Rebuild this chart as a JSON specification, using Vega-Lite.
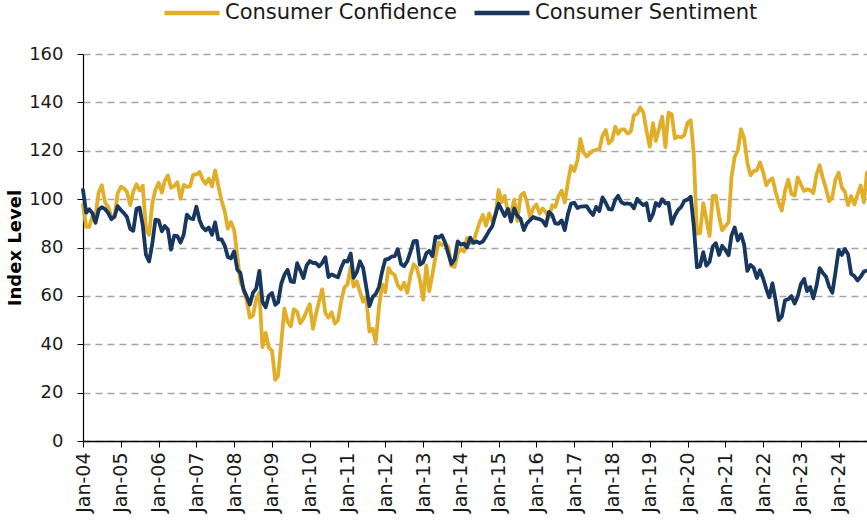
{
"$schema": "https://vega.github.io/schema/vega-lite/v6.json",
"width": 784, "height": 387,
"autosize": "none",
"padding": {"left": 83, "top": 54, "right": 0, "bottom": 81},
"background": "white",
"config": {"view": {"stroke": null}, "font": "DejaVu Sans"},
"data": {"values": [
{"d":"2004-01","cc":97.7,"cs":103.8},{"d":"2004-02","cc":88.5,"cs":94.4},{"d":"2004-03","cc":88.5,"cs":95.8},{"d":"2004-04","cc":93.0,"cs":94.2},{"d":"2004-05","cc":93.1,"cs":90.2},{"d":"2004-06","cc":102.8,"cs":95.6},{"d":"2004-07","cc":105.7,"cs":96.7},{"d":"2004-08","cc":98.7,"cs":95.9},{"d":"2004-09","cc":96.7,"cs":94.2},{"d":"2004-10","cc":92.9,"cs":91.7},{"d":"2004-11","cc":92.6,"cs":92.8},{"d":"2004-12","cc":102.3,"cs":97.1},
{"d":"2005-01","cc":105.1,"cs":95.5},{"d":"2005-02","cc":104.4,"cs":94.1},{"d":"2005-03","cc":103.0,"cs":92.6},{"d":"2005-04","cc":97.5,"cs":87.7},{"d":"2005-05","cc":103.1,"cs":86.9},{"d":"2005-06","cc":106.2,"cs":96.0},{"d":"2005-07","cc":103.6,"cs":96.5},{"d":"2005-08","cc":105.5,"cs":89.1},{"d":"2005-09","cc":87.5,"cs":76.9},{"d":"2005-10","cc":85.2,"cs":74.2},{"d":"2005-11","cc":98.3,"cs":81.6},{"d":"2005-12","cc":103.8,"cs":91.5},
{"d":"2006-01","cc":106.8,"cs":91.2},{"d":"2006-02","cc":102.7,"cs":86.7},{"d":"2006-03","cc":107.5,"cs":88.9},{"d":"2006-04","cc":109.8,"cs":87.4},{"d":"2006-05","cc":104.7,"cs":79.1},{"d":"2006-06","cc":105.4,"cs":84.9},{"d":"2006-07","cc":107.0,"cs":84.7},{"d":"2006-08","cc":100.2,"cs":82.0},{"d":"2006-09","cc":105.9,"cs":85.4},{"d":"2006-10","cc":105.1,"cs":93.6},{"d":"2006-11","cc":105.3,"cs":92.1},{"d":"2006-12","cc":110.0,"cs":91.7},
{"d":"2007-01","cc":110.2,"cs":96.9},{"d":"2007-02","cc":111.2,"cs":91.3},{"d":"2007-03","cc":108.2,"cs":88.4},{"d":"2007-04","cc":106.3,"cs":87.1},{"d":"2007-05","cc":108.5,"cs":88.3},{"d":"2007-06","cc":105.3,"cs":85.3},{"d":"2007-07","cc":111.9,"cs":90.4},{"d":"2007-08","cc":105.6,"cs":83.4},{"d":"2007-09","cc":99.5,"cs":83.4},{"d":"2007-10","cc":95.2,"cs":80.9},{"d":"2007-11","cc":87.8,"cs":76.1},{"d":"2007-12","cc":90.6,"cs":75.5},
{"d":"2008-01","cc":87.3,"cs":78.4},{"d":"2008-02","cc":76.4,"cs":70.8},{"d":"2008-03","cc":65.9,"cs":69.5},{"d":"2008-04","cc":62.8,"cs":62.6},{"d":"2008-05","cc":58.1,"cs":59.8},{"d":"2008-06","cc":51.0,"cs":56.4},{"d":"2008-07","cc":51.9,"cs":61.2},{"d":"2008-08","cc":58.5,"cs":63.0},{"d":"2008-09","cc":61.4,"cs":70.3},{"d":"2008-10","cc":38.8,"cs":57.6},{"d":"2008-11","cc":44.7,"cs":55.3},{"d":"2008-12","cc":38.6,"cs":60.1},
{"d":"2009-01","cc":37.4,"cs":61.2},{"d":"2009-02","cc":25.3,"cs":56.3},{"d":"2009-03","cc":26.9,"cs":57.3},{"d":"2009-04","cc":40.8,"cs":65.1},{"d":"2009-05","cc":54.8,"cs":68.7},{"d":"2009-06","cc":49.3,"cs":70.8},{"d":"2009-07","cc":47.4,"cs":66.0},{"d":"2009-08","cc":54.5,"cs":65.7},{"d":"2009-09","cc":53.4,"cs":73.5},{"d":"2009-10","cc":48.7,"cs":70.6},{"d":"2009-11","cc":50.6,"cs":67.4},{"d":"2009-12","cc":53.6,"cs":72.5},
{"d":"2010-01","cc":56.5,"cs":74.4},{"d":"2010-02","cc":46.4,"cs":73.6},{"d":"2010-03","cc":52.3,"cs":73.6},{"d":"2010-04","cc":57.7,"cs":72.2},{"d":"2010-05","cc":62.7,"cs":73.6},{"d":"2010-06","cc":52.9,"cs":76.0},{"d":"2010-07","cc":51.0,"cs":67.8},{"d":"2010-08","cc":53.2,"cs":68.9},{"d":"2010-09","cc":48.6,"cs":68.2},{"d":"2010-10","cc":49.9,"cs":67.7},{"d":"2010-11","cc":57.8,"cs":71.6},{"d":"2010-12","cc":63.4,"cs":74.5},
{"d":"2011-01","cc":64.8,"cs":74.2},{"d":"2011-02","cc":72.0,"cs":77.5},{"d":"2011-03","cc":63.8,"cs":67.5},{"d":"2011-04","cc":66.0,"cs":69.8},{"d":"2011-05","cc":61.7,"cs":74.3},{"d":"2011-06","cc":57.6,"cs":71.5},{"d":"2011-07","cc":59.2,"cs":63.7},{"d":"2011-08","cc":45.2,"cs":55.8},{"d":"2011-09","cc":46.4,"cs":59.5},{"d":"2011-10","cc":40.9,"cs":60.8},{"d":"2011-11","cc":55.2,"cs":63.7},{"d":"2011-12","cc":64.8,"cs":69.9},
{"d":"2012-01","cc":61.5,"cs":75.0},{"d":"2012-02","cc":71.6,"cs":75.3},{"d":"2012-03","cc":69.5,"cs":76.2},{"d":"2012-04","cc":68.7,"cs":76.4},{"d":"2012-05","cc":64.4,"cs":79.3},{"d":"2012-06","cc":62.7,"cs":73.2},{"d":"2012-07","cc":65.4,"cs":72.3},{"d":"2012-08","cc":61.3,"cs":74.3},{"d":"2012-09","cc":68.4,"cs":78.3},{"d":"2012-10","cc":73.1,"cs":82.6},{"d":"2012-11","cc":71.5,"cs":82.7},{"d":"2012-12","cc":66.7,"cs":72.9},
{"d":"2013-01","cc":58.4,"cs":73.8},{"d":"2013-02","cc":72.6,"cs":77.6},{"d":"2013-03","cc":61.9,"cs":78.6},{"d":"2013-04","cc":69.0,"cs":76.4},{"d":"2013-05","cc":76.2,"cs":84.5},{"d":"2013-06","cc":82.1,"cs":84.1},{"d":"2013-07","cc":81.0,"cs":85.1},{"d":"2013-08","cc":81.8,"cs":82.1},{"d":"2013-09","cc":80.2,"cs":77.5},{"d":"2013-10","cc":72.4,"cs":73.2},{"d":"2013-11","cc":72.0,"cs":75.1},{"d":"2013-12","cc":77.5,"cs":82.5},
{"d":"2014-01","cc":79.4,"cs":81.2},{"d":"2014-02","cc":78.3,"cs":81.6},{"d":"2014-03","cc":83.9,"cs":80.0},{"d":"2014-04","cc":81.7,"cs":84.1},{"d":"2014-05","cc":82.2,"cs":81.9},{"d":"2014-06","cc":86.4,"cs":82.5},{"d":"2014-07","cc":90.3,"cs":81.8},{"d":"2014-08","cc":93.4,"cs":82.5},{"d":"2014-09","cc":89.0,"cs":84.6},{"d":"2014-10","cc":94.1,"cs":86.9},{"d":"2014-11","cc":91.0,"cs":88.8},{"d":"2014-12","cc":93.1,"cs":93.6},
{"d":"2015-01","cc":103.8,"cs":98.1},{"d":"2015-02","cc":98.8,"cs":95.4},{"d":"2015-03","cc":101.4,"cs":93.0},{"d":"2015-04","cc":94.3,"cs":95.9},{"d":"2015-05","cc":94.6,"cs":90.7},{"d":"2015-06","cc":99.8,"cs":96.1},{"d":"2015-07","cc":91.0,"cs":93.1},{"d":"2015-08","cc":101.3,"cs":91.9},{"d":"2015-09","cc":102.6,"cs":87.2},{"d":"2015-10","cc":99.1,"cs":90.0},{"d":"2015-11","cc":92.6,"cs":91.3},{"d":"2015-12","cc":96.3,"cs":92.6},
{"d":"2016-01","cc":97.8,"cs":92.0},{"d":"2016-02","cc":94.0,"cs":91.7},{"d":"2016-03","cc":96.1,"cs":91.0},{"d":"2016-04","cc":94.7,"cs":89.0},{"d":"2016-05","cc":92.4,"cs":94.7},{"d":"2016-06","cc":97.4,"cs":93.5},{"d":"2016-07","cc":96.7,"cs":90.0},{"d":"2016-08","cc":101.1,"cs":89.8},{"d":"2016-09","cc":103.5,"cs":91.2},{"d":"2016-10","cc":98.6,"cs":87.2},{"d":"2016-11","cc":107.1,"cs":93.8},{"d":"2016-12","cc":113.7,"cs":98.2},
{"d":"2017-01","cc":111.6,"cs":98.5},{"d":"2017-02","cc":116.1,"cs":96.3},{"d":"2017-03","cc":124.9,"cs":96.9},{"d":"2017-04","cc":119.4,"cs":97.0},{"d":"2017-05","cc":117.6,"cs":97.1},{"d":"2017-06","cc":118.9,"cs":95.0},{"d":"2017-07","cc":120.0,"cs":93.4},{"d":"2017-08","cc":120.4,"cs":96.8},{"d":"2017-09","cc":120.6,"cs":95.1},{"d":"2017-10","cc":126.2,"cs":100.7},{"d":"2017-11","cc":128.6,"cs":98.5},{"d":"2017-12","cc":123.1,"cs":95.9},
{"d":"2018-01","cc":124.3,"cs":95.7},{"d":"2018-02","cc":130.0,"cs":99.7},{"d":"2018-03","cc":127.0,"cs":101.4},{"d":"2018-04","cc":128.8,"cs":98.8},{"d":"2018-05","cc":128.8,"cs":98.0},{"d":"2018-06","cc":127.1,"cs":98.2},{"d":"2018-07","cc":127.9,"cs":97.9},{"d":"2018-08","cc":134.7,"cs":96.2},{"d":"2018-09","cc":135.3,"cs":100.1},{"d":"2018-10","cc":137.9,"cs":98.6},{"d":"2018-11","cc":135.7,"cs":97.5},{"d":"2018-12","cc":128.1,"cs":98.3},
{"d":"2019-01","cc":121.7,"cs":91.2},{"d":"2019-02","cc":131.4,"cs":93.8},{"d":"2019-03","cc":124.1,"cs":98.4},{"d":"2019-04","cc":129.2,"cs":97.2},{"d":"2019-05","cc":134.1,"cs":100.0},{"d":"2019-06","cc":121.5,"cs":98.2},{"d":"2019-07","cc":135.7,"cs":98.4},{"d":"2019-08","cc":135.1,"cs":89.8},{"d":"2019-09","cc":125.1,"cs":93.2},{"d":"2019-10","cc":125.9,"cs":95.5},{"d":"2019-11","cc":125.5,"cs":96.8},{"d":"2019-12","cc":126.5,"cs":99.3},
{"d":"2020-01","cc":131.6,"cs":99.8},{"d":"2020-02","cc":132.6,"cs":101.0},{"d":"2020-03","cc":118.8,"cs":89.1},{"d":"2020-04","cc":85.7,"cs":71.8},{"d":"2020-05","cc":85.9,"cs":72.3},{"d":"2020-06","cc":98.3,"cs":78.1},{"d":"2020-07","cc":91.7,"cs":72.5},{"d":"2020-08","cc":84.8,"cs":74.1},{"d":"2020-09","cc":101.3,"cs":80.4},{"d":"2020-10","cc":101.4,"cs":81.8},{"d":"2020-11","cc":92.9,"cs":76.9},{"d":"2020-12","cc":87.1,"cs":80.7},
{"d":"2021-01","cc":88.9,"cs":79.0},{"d":"2021-02","cc":90.4,"cs":76.8},{"d":"2021-03","cc":109.0,"cs":84.9},{"d":"2021-04","cc":117.5,"cs":88.3},{"d":"2021-05","cc":120.0,"cs":82.9},{"d":"2021-06","cc":128.9,"cs":85.5},{"d":"2021-07","cc":125.1,"cs":81.2},{"d":"2021-08","cc":115.2,"cs":70.3},{"d":"2021-09","cc":109.8,"cs":72.8},{"d":"2021-10","cc":111.6,"cs":71.7},{"d":"2021-11","cc":111.9,"cs":67.4},{"d":"2021-12","cc":115.2,"cs":70.6},
{"d":"2022-01","cc":111.1,"cs":67.2},{"d":"2022-02","cc":105.7,"cs":62.8},{"d":"2022-03","cc":107.6,"cs":59.4},{"d":"2022-04","cc":108.6,"cs":65.2},{"d":"2022-05","cc":103.2,"cs":58.4},{"d":"2022-06","cc":98.4,"cs":50.0},{"d":"2022-07","cc":95.3,"cs":51.5},{"d":"2022-08","cc":103.6,"cs":58.2},{"d":"2022-09","cc":108.0,"cs":58.6},{"d":"2022-10","cc":102.2,"cs":59.9},{"d":"2022-11","cc":101.4,"cs":56.8},{"d":"2022-12","cc":109.0,"cs":59.7},
{"d":"2023-01","cc":106.0,"cs":64.9},{"d":"2023-02","cc":103.4,"cs":67.0},{"d":"2023-03","cc":104.0,"cs":62.0},{"d":"2023-04","cc":103.7,"cs":63.7},{"d":"2023-05","cc":102.5,"cs":59.0},{"d":"2023-06","cc":110.1,"cs":64.2},{"d":"2023-07","cc":114.0,"cs":71.5},{"d":"2023-08","cc":108.7,"cs":69.5},{"d":"2023-09","cc":104.3,"cs":67.9},{"d":"2023-10","cc":99.1,"cs":63.8},{"d":"2023-11","cc":101.0,"cs":61.3},{"d":"2023-12","cc":108.0,"cs":69.7},
{"d":"2024-01","cc":110.9,"cs":79.0},{"d":"2024-02","cc":104.8,"cs":76.9},{"d":"2024-03","cc":103.1,"cs":79.4},{"d":"2024-04","cc":97.5,"cs":77.2},{"d":"2024-05","cc":101.3,"cs":69.1},{"d":"2024-06","cc":97.8,"cs":68.2},{"d":"2024-07","cc":101.9,"cs":66.4},{"d":"2024-08","cc":105.6,"cs":67.9},{"d":"2024-09","cc":98.7,"cs":70.1},{"d":"2024-10","cc":111.0,"cs":70.5}
]},
"transform": [{"fold": ["cc", "cs"], "as": ["series", "value"]}],
"mark": {"type": "line", "strokeWidth": 3.8, "strokeJoin": "round", "strokeCap": "round"},
"encoding": {
"x": {"field": "d", "type": "temporal",
 "scale": {"type": "utc", "domain": [{"year": 2004, "month": 1, "date": 1, "utc": true}, {"year": 2024, "month": 10, "date": 1, "utc": true}], "nice": false},
 "axis": {"title": null, "format": "%b-%y", "tickCount": {"interval": "year", "step": 1}, "labelAngle": -90, "labelFont": "DejaVu Sans", "labelFontSize": 19, "labelColor": "#1a1a1a", "grid": false, "domainColor": "black", "domainWidth": 1.5, "tickColor": "black", "tickSize": 6, "tickWidth": 1, "labelPadding": 5, "labelOverlap": false, "labelFlush": false}},
"y": {"field": "value", "type": "quantitative",
 "scale": {"domain": [0, 160], "nice": false},
 "axis": {"title": "Index Level", "values": [0, 20, 40, 60, 80, 100, 120, 140, 160], "grid": true, "gridDash": [7, 5], "gridColor": "#a6a6a6", "gridWidth": 1.5, "domainColor": "black", "domainWidth": 1.2, "tickColor": "black", "tickSize": 6, "tickWidth": 1, "labelFont": "DejaVu Sans", "labelFontSize": 18, "labelColor": "#1a1a1a", "labelPadding": 14, "titleFont": "DejaVu Sans", "titleFontSize": 18, "titleFontWeight": "bold", "titlePadding": 4, "titleColor": "black"}},
"color": {"field": "series", "type": "nominal",
 "scale": {"domain": ["cc", "cs"], "range": ["#E0AE28", "#17375E"]},
 "legend": {"title": null, "orient": "none", "legendX": 79, "legendY": -71, "direction": "horizontal", "padding": 0, "symbolType": "stroke", "symbolSize": 3025, "symbolStrokeWidth": 4.5, "labelFont": "DejaVu Sans", "labelFontSize": 21, "labelColor": "#1a1a1a", "labelOffset": 3, "columnPadding": 8, "labelLimit": 400,
  "labelExpr": "datum.label == 'cc' ? 'Consumer Confidence' : 'Consumer Sentiment'"}}
}
}
